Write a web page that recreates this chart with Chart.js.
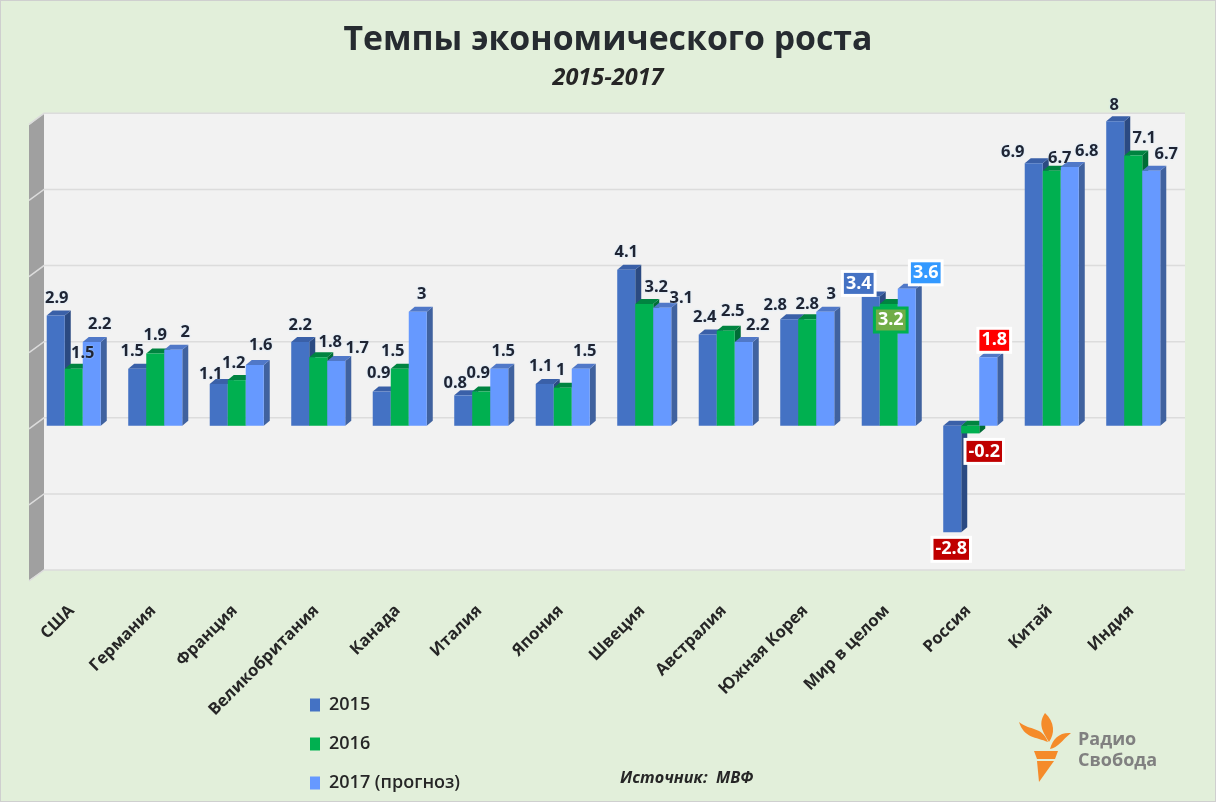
<!DOCTYPE html>
<html lang="ru">
<head>
<meta charset="utf-8">
<title>Темпы экономического роста</title>
<script src="https://cdn.jsdelivr.net/npm/chart.js@4/dist/chart.umd.js"></script>
<style>
    html, body { margin: 0; padding: 0; background: #e2efda; }
    canvas { display: block; }
</style>
</head>
<body>
<canvas id="graficoRost" width="1216" height="802"></canvas>
<script>
const paises = ['США', 'Германия', 'Франция', 'Великобритания', 'Канада', 'Италия', 'Япония', 'Швеция', 'Австралия', 'Южная Корея', 'Мир в целом', 'Россия', 'Китай', 'Индия'];
const rost2015 = [2.9, 1.5, 1.1, 2.2, 0.9, 0.8, 1.1, 4.1, 2.4, 2.8, 3.4, -2.8, 6.9, 8];
const rost2016 = [1.5, 1.9, 1.2, 1.8, 1.5, 0.9, 1, 3.2, 2.5, 2.8, 3.2, -0.2, 6.7, 7.1];
const rost2017 = [2.2, 2, 1.6, 1.7, 3, 1.5, 1.5, 3.1, 2.2, 3, 3.6, 1.8, 6.8, 6.7];

const FONT = '"Open Sans", sans-serif';

// label positions relative to the top of each bar [dx, dy]
const ajusteRotulos = [
    [[1,-17],[-5,-17],[-8,-10],[0,-17],[-3,-18],[-8,-12],[-4,-18],[0,-17],[-3,-17],[-14,-14],[-12,-13],[-1,17],[-21,-11],[-1,-16]],
    [[9,-15],[0,-18],[-3,-17],[12,-15],[-7,-17],[-3,-18],[-2,-17],[12,-17],[7,-19],[0,-15],[2,16],[14,18],[8,-13],[11,-17]],
    [[8,-18],[12,-17],[6,-20],[21,-13],[4,-17],[4,-17],[4,-17],[19,-10],[14,-17],[6,-17],[19,-16],[6,-17],[17,-16],[15,-17]]
];

// highlighted labels: dataset, category, fill, border
const rotulosDestaque = [
    [0, 10, '#4472c4', '#ffffff'],
    [1, 10, '#70ad47', '#00b050'],
    [2, 10, '#3399ff', '#ffffff'],
    [0, 11, '#c00000', '#ffffff'],
    [1, 11, '#c00000', '#ffffff'],
    [2, 11, '#ff0000', '#ffffff']
];

const coresLado = ['#2b4a82', '#006d36', '#40629f'];
const coresTopo = ['#3a60a8', '#008440', '#5078c8'];
const PROF_X = 6, PROF_Y = 5;

function poligono(ctx, pts, cor) {
    ctx.fillStyle = cor;
    ctx.beginPath();
    pts.forEach((p, i) => i ? ctx.lineTo(p[0], p[1]) : ctx.moveTo(p[0], p[1]));
    ctx.closePath();
    ctx.fill();
}

const fundo3d = {
    id: 'fundo3d',
    beforeDraw(chart) {
        const ctx = chart.ctx;
        ctx.save();
        ctx.fillStyle = '#e2efda';
        ctx.fillRect(0, 0, chart.width, chart.height);
        ctx.strokeStyle = '#cfcfcf';
        ctx.lineWidth = 1;
        ctx.strokeRect(0.5, 0.5, chart.width - 1, chart.height - 1);
        ctx.restore();
    },
    beforeDatasetsDraw(chart) {
        const ctx = chart.ctx, y = chart.scales.y;
        const esq = 44, dir = 1185, frente = 29;
        const yTopo = y.getPixelForValue(8) - 8, yBase = y.getPixelForValue(-4) - 8;
        ctx.save();
        ctx.fillStyle = '#f2f2f2';
        ctx.fillRect(esq, yTopo, dir - esq, yBase - yTopo);
        poligono(ctx, [[frente, yTopo + 12], [esq, yTopo], [esq, yBase], [frente, yBase + 10]], '#a0a0a0');
        ctx.strokeStyle = '#dcdcdc';
        ctx.lineWidth = 1.5;
        y.ticks.forEach(t => {
            const py = y.getPixelForValue(t.value) - 8;
            ctx.beginPath();
            ctx.moveTo(frente, py + 11);
            ctx.lineTo(esq, py);
            ctx.lineTo(dir, py);
            ctx.stroke();
        });
        ctx.restore();
    },
    // bars are painted left to right so that each one hides the side of its neighbour
    beforeDatasetDraw() {
        return false;
    },
    afterDatasetsDraw(chart) {
        const ctx = chart.ctx;
        chart.data.datasets.forEach((ds, i) => {
            const meta = chart.getDatasetMeta(i);
            meta.data.forEach(bar => {
                const esq = bar.x - bar.width / 2, dir = bar.x + bar.width / 2;
                const alto = Math.min(bar.y, bar.base), baixo = Math.max(bar.y, bar.base);
                poligono(ctx, [[dir, alto], [dir + PROF_X, alto - PROF_Y], [dir + PROF_X, baixo - PROF_Y], [dir, baixo]], coresLado[i]);
                poligono(ctx, [[esq, alto], [esq + PROF_X, alto - PROF_Y], [dir + PROF_X, alto - PROF_Y], [dir, alto]], coresTopo[i]);
            });
            meta.data.forEach(bar => bar.draw(ctx));
        });
        desenharRotulos(chart);
        desenharExtras(chart);
    }
};

function desenharRotulos(chart) {
    const ctx = chart.ctx;
    ctx.save();
    ctx.textAlign = 'center';
    ctx.textBaseline = 'middle';
    chart.data.datasets.forEach((ds, i) => {
        chart.getDatasetMeta(i).data.forEach((bar, j) => {
            const txt = String(ds.data[j]);
            const lx = bar.x + ajusteRotulos[i][j][0];
            const ly = bar.y + ajusteRotulos[i][j][1];
            const dest = rotulosDestaque.find(r => r[0] === i && r[1] === j);
            if (dest) {
                ctx.font = '700 18px ' + FONT;
                const w = ctx.measureText(txt).width + 7;
                ctx.fillStyle = dest[2];
                ctx.strokeStyle = dest[3];
                ctx.lineWidth = 3;
                ctx.fillRect(lx - w / 2, ly - 12, w, 24);
                ctx.strokeRect(lx - w / 2, ly - 12, w, 24);
                ctx.fillStyle = '#ffffff';
                ctx.fillText(txt, lx, ly);
            } else {
                ctx.font = '700 16.5px ' + FONT;
                ctx.shadowColor = 'rgba(190,225,255,0.9)';
                ctx.shadowBlur = 2;
                ctx.fillStyle = '#1f2433';
                ctx.fillText(txt, lx, ly);
                ctx.shadowBlur = 0;
            }
        });
    });
    ctx.restore();
}

function desenharExtras(chart) {
    const ctx = chart.ctx;
    ctx.save();
    ctx.textBaseline = 'middle';
    ctx.font = 'italic 700 16.2px ' + FONT;
    ctx.fillStyle = '#262626';
    ctx.fillText('Источник:  МВФ', 620, 778);

    // logo
    const laranja = '#f58b2a';
    ctx.fillStyle = laranja;
    ctx.beginPath();
    ctx.moveTo(1045, 713);
    ctx.bezierCurveTo(1055, 722, 1055, 734, 1049, 742);
    ctx.bezierCurveTo(1044, 733, 1037, 725, 1045, 713);
    ctx.fill();
    ctx.beginPath();
    ctx.moveTo(1019, 722);
    ctx.bezierCurveTo(1030, 731, 1042, 726, 1048, 742);
    ctx.bezierCurveTo(1036, 737, 1024, 738, 1019, 722);
    ctx.fill();
    ctx.beginPath();
    ctx.moveTo(1071, 733);
    ctx.bezierCurveTo(1060, 732, 1053, 738, 1050, 749);
    ctx.bezierCurveTo(1058, 748, 1062, 740, 1071, 733);
    ctx.fill();
    poligono(ctx, [[1034, 751], [1058, 751], [1055, 759], [1037, 759]], laranja);
    poligono(ctx, [[1037, 761], [1054, 761], [1039, 782]], laranja);
    ctx.font = '700 18px ' + FONT;
    ctx.fillStyle = '#808080';
    ctx.fillText('Радио', 1078, 740);
    ctx.fillText('Свобода', 1078, 761);
    ctx.restore();
}

const posicaoLegenda = {
    id: 'posicaoLegenda',
    afterLayout(chart) {
        chart.legend.left = 289;
        chart.legend.top = 675;
        chart.legend.right = 600;
        chart.legend.bottom = 1000;
        // title and subtitle are centred on the whole picture, not on the plot
        chart.boxes.forEach(b => {
            if (b.position === 'top') {
                b.left = 0;
                b.right = chart.width;
            }
        });
    }
};

new Chart(document.getElementById('graficoRost'), {
    type: 'bar',
    data: {
        labels: paises,
        datasets: [
            { label: '2015', data: rost2015, backgroundColor: '#4472c4' },
            { label: '2016', data: rost2016, backgroundColor: '#00b050' },
            { label: '2017 (прогноз)', data: rost2017, backgroundColor: '#6699ff' }
        ]
    },
    options: {
        responsive: false,
        animation: false,
        layout: { autoPadding: false, padding: { left: 33, right: 42, top: 0, bottom: 0 } },
        datasets: { bar: { categoryPercentage: 0.663, barPercentage: 1 } },
        plugins: {
            title: {
                display: true,
                text: 'Темпы экономического роста',
                color: '#262b30',
                font: { family: FONT, size: 33.8, weight: '700', lineHeight: 1.2 },
                padding: { top: 20, bottom: 0 }
            },
            subtitle: {
                display: true,
                text: '2015-2017',
                color: '#262626',
                font: { family: FONT, size: 23.5, weight: '700', style: 'italic', lineHeight: 1.2 },
                padding: { top: 3.2, bottom: 29.4 }
            },
            legend: {
                position: 'chartArea',
                align: 'start',
                labels: {
                    color: '#262626',
                    font: { family: FONT, size: 18, weight: '600' },
                    boxWidth: 10,
                    boxHeight: 13,
                    padding: 21
                }
            },
            tooltip: { enabled: false }
        },
        scales: {
            x: {
                grid: { display: false },
                border: { display: false },
                afterFit(scale) { scale.height = 224; },
                ticks: {
                    autoSkip: false,
                    minRotation: 45,
                    maxRotation: 45,
                    padding: 15,
                    labelOffset: -2,
                    color: '#262626',
                    font: { family: FONT, size: 16.5, weight: '700' }
                }
            },
            y: {
                min: -4,
                max: 8,
                grid: { display: false },
                border: { display: false },
                afterFit(scale) { scale.width = 0; },
                ticks: { display: false, stepSize: 2 }
            }
        }
    },
    plugins: [fundo3d, posicaoLegenda]
});
</script>
</body>
</html>
